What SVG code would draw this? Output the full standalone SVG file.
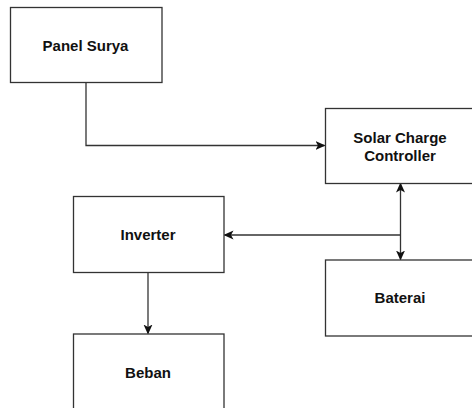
<svg xmlns="http://www.w3.org/2000/svg" width="472" height="408" viewBox="0 0 472 408">
  <defs>
    <style>
      .box { fill: #ffffff; stroke: #333333; stroke-width: 1.3; }
      .lbl { font-family: "Liberation Sans", Arial, sans-serif; font-weight: bold; font-size: 15px; fill: #111111; text-anchor: middle; }
      .edge { fill: none; stroke: #333333; stroke-width: 1.3; }
    </style>
    <marker id="arr" viewBox="0 0 10 10" refX="9" refY="5" markerWidth="10" markerHeight="10" markerUnits="userSpaceOnUse" orient="auto-start-reverse">
      <path d="M0,0.5 L10,5 L0,9.5 L2.5,5 z" fill="#111111"/>
    </marker>
  </defs>
  <rect width="472" height="408" fill="#ffffff"/>

  <g id="connectors">
    <path class="edge" d="M86,82.5 V145.5 H324.5" marker-end="url(#arr)"/>
    <path class="edge" d="M400.5,183.5 V259.5" marker-start="url(#arr)" marker-end="url(#arr)"/>
    <path class="edge" d="M400.5,235 H224.5" marker-end="url(#arr)"/>
    <path class="edge" d="M148,272.5 V333.5" marker-end="url(#arr)"/>
  </g>

  <g id="panel-surya">
    <rect class="box" x="10.5" y="7.5" width="151.5" height="75"/>
    <text class="lbl" x="85.5" y="51">Panel Surya</text>
  </g>

  <g id="solar-charge-controller">
    <rect class="box" x="325.5" y="108.5" width="150" height="75"/>
    <text class="lbl" x="400" y="142.5">Solar Charge</text>
    <text class="lbl" x="400" y="161">Controller</text>
  </g>

  <g id="inverter">
    <rect class="box" x="73.5" y="196.5" width="150.5" height="76"/>
    <text class="lbl" x="148" y="240">Inverter</text>
  </g>

  <g id="baterai">
    <rect class="box" x="325.5" y="260" width="150" height="76"/>
    <text class="lbl" x="400" y="303">Baterai</text>
  </g>

  <g id="beban">
    <rect class="box" x="73.5" y="334" width="150.5" height="80"/>
    <text class="lbl" x="148" y="378">Beban</text>
  </g>
</svg>
